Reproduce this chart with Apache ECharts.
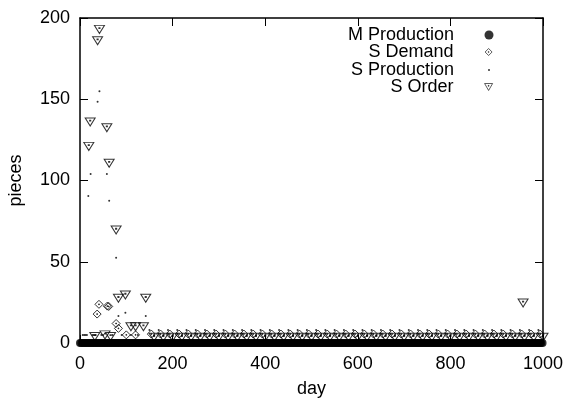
<!DOCTYPE html>
<html>
<head>
<meta charset="utf-8">
<script src="https://cdn.jsdelivr.net/npm/echarts@6/dist/echarts.min.js"></script>
<style>
  html, body { margin: 0; padding: 0; background: #fff; }
  #chart { width: 564px; height: 398px; }
</style>
</head>
<body>
<div id="chart"></div>
<script>
// values: [day, pieces]
const sOrderEarly = [[19, 121], [22, 136], [32, 4], [38, 186], [42, 193], [54, 5], [58, 132.5], [63, 110.6],
    [66, 4], [78, 69.5], [83, 27.5], [98, 29.5], [110, 10], [120, 10], [137, 10], [142, 27.5], [957, 24.6]]
const sDemandEarly = [[37, 17.8], [41, 23.8], [59, 22.7], [62, 22.5], [78, 12], [83, 9], [100, 5], [120, 5]]
const sProdEarly = [[6, 5], [9, 5], [12, 5], [15, 5], [18, 90.5], [23, 104], [27, 5], [30, 5], [34, 5],
    [38, 148.5], [42, 155], [46, 5], [50, 5], [58, 104], [63, 87.6], [70, 5], [78, 52.5], [83, 16.6],
    [90, 5], [98, 18.6], [110, 5], [125, 5], [142, 16.6]]

const cycleLen = 20
const cycleFrom = 150
const cycleTo = 1000
const sOrderCycle = [[10, 3.5]]
const sDemandCycle = [[4, 5.5]]
const sProdCycle = [[0, 8], [10, 5]]

// M Production sits on zero the whole run (solid band)
const mProdStep = 3
const mProdLevel = 0

const xTicks = {min: 0, max: 1000, interval: 200}
const yTicks = {min: 0, max: 200, interval: 50}

function repeatCycle(cycle) {
    var out = []
    for (var start = cycleFrom; start < cycleTo; start += cycleLen) {
        for (var i = 0; i < cycle.length; i++) {
            if (start + cycle[i][0] <= cycleTo) out.push([start + cycle[i][0], cycle[i][1]])
        }
    }
    return out
}

var mProd = []
for (var d = 0; d <= cycleTo; d += mProdStep) mProd.push([d, mProdLevel])

const sOrder = sOrderEarly.concat(repeatCycle(sOrderCycle))
const sDemand = sDemandEarly.concat(repeatCycle(sDemandCycle))
const sProd = sProdEarly.concat(repeatCycle(sProdCycle))

const font = 'Liberation Sans, Arial, Helvetica, sans-serif'
const triPath = 'path://M0,0L10,0L5,8.7ZM4.5,2.4L5.5,2.4L5.5,3.4L4.5,3.4Z'
const diaPath = 'path://M5,0L10,5L5,10L0,5ZM4.5,4.5L5.5,4.5L5.5,5.5L4.5,5.5Z'
const hollow = {color: 'rgba(0,0,0,0)', borderColor: '#000', borderWidth: 1}

var chart = echarts.init(document.getElementById('chart'), null, {renderer: 'canvas'})

// one legend per entry: text right aligned, symbol to its right (gnuplot key)
function legendAt(name, mid, w, h, style) {
    return {
        data: [{name: name, itemStyle: style}], orient: 'vertical', right: 75 - w / 2, top: mid - 8, align: 'right',
        itemWidth: w, itemHeight: h, selectedMode: false, padding: 0,
        textStyle: {fontFamily: font, fontSize: 18, color: '#000', padding: [0, 30 - w / 2, 0, 0]}
    }
}

const axisText = {fontFamily: font, fontSize: 18, color: '#000'}
const frame = {show: true, onZero: false, lineStyle: {color: '#000', width: 1.5}}
const noLine = {show: false, onZero: false}
const ticksOut = {show: true, inside: false, length: 8, lineStyle: {color: '#000', width: 1}}

// ticks point into the frame: extra axes shifted 8px inwards with outward ticks
function tickAxis(pos, t) {
    return {
        type: 'value', position: pos, offset: -8, min: t.min, max: t.max, interval: t.interval,
        axisLine: noLine, axisTick: ticksOut, splitLine: {show: false}, axisLabel: {show: false}
    }
}

var option = {
    animation: false,
    backgroundColor: '#fff',
    grid: {left: 80, right: 21, top: 18, bottom: 55, outerBoundsMode: 'none', containLabel: false},
    legend: [
        legendAt('M Production', 34, 9, 9, {color: '#000', borderWidth: 0}),
        legendAt('S Demand', 51, 7, 7, {color: 'rgba(0,0,0,0)', borderColor: '#000', borderWidth: 0.8}),
        legendAt('S Production', 69, 2, 2, {color: '#000', borderWidth: 0}),
        legendAt('S Order', 86, 8, 7, {color: 'rgba(0,0,0,0)', borderColor: '#000', borderWidth: 0.8})
    ],
    xAxis: [{
        type: 'value', min: xTicks.min, max: xTicks.max, interval: xTicks.interval,
        name: 'day', nameLocation: 'middle', nameGap: 37, nameTextStyle: axisText,
        axisLine: frame, axisTick: {show: false}, splitLine: {show: false},
        axisLabel: Object.assign({margin: 12, formatter: function (v) { return String(v) }}, axisText)
    }, {
        type: 'value', position: 'top', min: xTicks.min, max: xTicks.max, interval: xTicks.interval,
        axisLine: frame, axisTick: {show: false}, splitLine: {show: false}, axisLabel: {show: false}
    },
        tickAxis('bottom', xTicks),
        tickAxis('top', xTicks)
    ],
    yAxis: [{
        type: 'value', min: yTicks.min, max: yTicks.max, interval: yTicks.interval,
        name: 'pieces', nameLocation: 'middle', nameGap: 55, nameTextStyle: axisText,
        axisLine: frame, axisTick: {show: false}, splitLine: {show: false},
        axisLabel: Object.assign({margin: 10}, axisText)
    }, {
        type: 'value', position: 'right', min: yTicks.min, max: yTicks.max, interval: yTicks.interval,
        axisLine: frame, axisTick: {show: false}, splitLine: {show: false}, axisLabel: {show: false}
    },
        tickAxis('left', yTicks),
        tickAxis('right', yTicks)
    ],
    series: [
        {name: 'M Production', type: 'scatter', data: mProd, symbol: 'circle', symbolSize: 8,
            itemStyle: {color: '#000'}, clip: false, z: 2},
        {name: 'S Demand', type: 'scatter', data: sDemand, symbol: diaPath, symbolSize: 8,
            itemStyle: hollow, clip: false, z: 3},
        {name: 'S Production', type: 'scatter', data: sProd, symbol: 'circle', symbolSize: 2,
            itemStyle: {color: '#000'}, clip: false, z: 4},
        {name: 'S Order', type: 'scatter', data: sOrder, symbol: triPath, symbolSize: [10, 8],
            itemStyle: hollow, clip: false, z: 5}
    ]
}

chart.setOption(option)
</script>
</body>
</html>
